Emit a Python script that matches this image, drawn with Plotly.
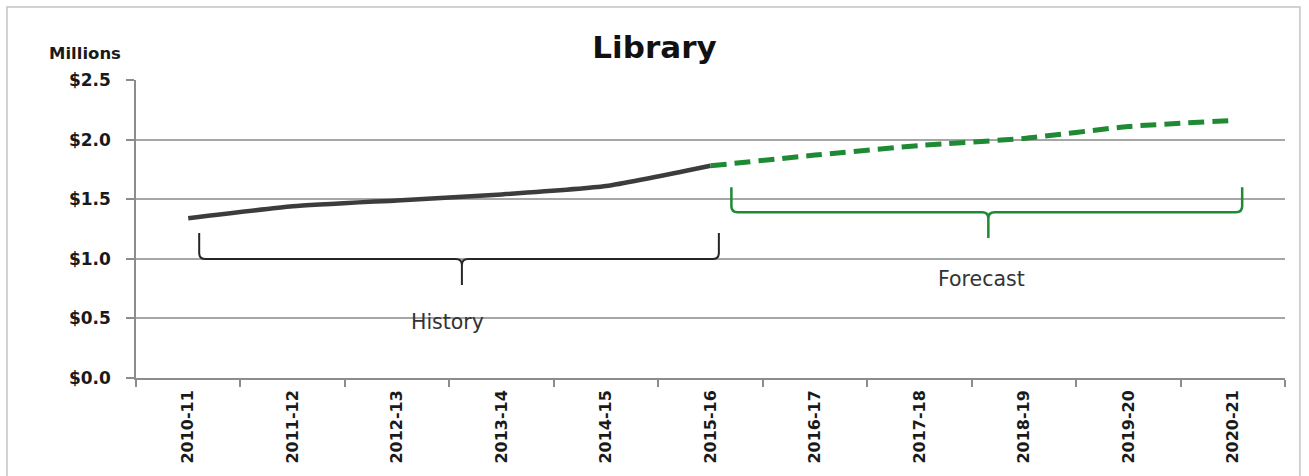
import plotly.graph_objects as go

# Fiscal years on the category axis
categories = ["2010-11", "2011-12", "2012-13", "2013-14", "2014-15", "2015-16",
              "2016-17", "2017-18", "2018-19", "2019-20", "2020-21"]

# Library spending, $ millions
history_years = categories[:6]
history_values = [1.34, 1.44, 1.49, 1.54, 1.61, 1.78]
forecast_years = categories[5:]
forecast_values = [1.78, 1.87, 1.95, 2.01, 2.11, 2.16]

y_ticks = [0.0, 0.5, 1.0, 1.5, 2.0, 2.5]

FONT = "DejaVu Sans"
GREEN = "#1f8a34"
DARK = "#3c3c3c"

idx = {c: i for i, c in enumerate(categories)}

fig = go.Figure()

fig.add_trace(go.Scatter(
    x=[idx[c] for c in history_years], y=history_values,
    mode="lines", line=dict(color=DARK, width=4.5, shape="spline", smoothing=0.5),
    hoverinfo="skip", showlegend=False))

fig.add_trace(go.Scatter(
    x=[idx[c] for c in forecast_years], y=forecast_values,
    mode="lines", line=dict(color=GREEN, width=5, dash="16px,8px",
                            shape="spline", smoothing=0.5),
    hoverinfo="skip", showlegend=False))


def brace_path(xl, xr, xm, yb, yt, ytip, dx=0.06, dy=0.05):
    """Curly brace opening upward: ends rise to yt, stem drops to ytip."""
    return (f"M {xl},{yt} L {xl},{yb + dy} Q {xl},{yb} {xl + dx},{yb} "
            f"L {xm - dx},{yb} Q {xm},{yb} {xm},{yb - dy} L {xm},{ytip} "
            f"M {xm},{yb - dy} Q {xm},{yb} {xm + dx},{yb} "
            f"L {xr - dx},{yb} Q {xr},{yb} {xr},{yb + dy} L {xr},{yt}")


fig.add_shape(type="path", xref="x", yref="y",
              path=brace_path(0.105, 5.08, 2.62, 0.998, 1.216, 0.78),
              line=dict(color="#262626", width=2))
fig.add_shape(type="path", xref="x", yref="y",
              path=brace_path(5.2, 10.09, 7.66, 1.39, 1.60, 1.175),
              line=dict(color=GREEN, width=2.5))

# Outer chart frame
fig.add_shape(type="rect", xref="paper", yref="paper",
              x0=-0.1123, x1=1.013, y0=-0.40, y1=1.245,
              line=dict(color="#c4c4c4", width=1.5), fillcolor="rgba(0,0,0,0)",
              layer="below")

fig.add_annotation(x=2.48, y=0.47, xref="x", yref="y", text="History",
                   showarrow=False, font=dict(family=FONT, size=20.5, color="#333333"))
fig.add_annotation(x=7.59, y=0.83, xref="x", yref="y", text="Forecast",
                   showarrow=False, font=dict(family=FONT, size=20.5, color="#333333"))
fig.add_annotation(x=-0.0444, y=1.0906, xref="paper", yref="paper", text="<b>Millions</b>",
                   showarrow=False, xanchor="center", yanchor="middle",
                   font=dict(family=FONT, size=16.5, color="#1a1a1a"))

fig.update_layout(
    width=1309, height=476,
    margin=dict(l=136, r=24, t=80, b=98),
    paper_bgcolor="white", plot_bgcolor="white",
    title=dict(text="<b>Library</b>", x=0.5, xref="container", xanchor="center",
               y=1 - 47 / 476, yanchor="middle",
               font=dict(family=FONT, size=31, color="#111111")),
    xaxis=dict(
        range=[-0.5, 10.5], tickmode="array",
        tickvals=list(range(len(categories))),
        ticktext=[f"<b>{c}</b>" for c in categories],
        tickangle=-90, ticks="", showgrid=False, zeroline=False,
        showline=True, linecolor="#8c8c8c", linewidth=1.5,
        ticklabelstandoff=4,
        tickfont=dict(family=FONT, size=16, color="#1a1a1a"),
        minor=dict(tickmode="array",
                   tickvals=[i - 0.5 for i in range(len(categories) + 1)],
                   ticks="outside", ticklen=7, tickcolor="#8c8c8c", tickwidth=1.5,
                   showgrid=False),
        fixedrange=True),
    yaxis=dict(
        range=[0, 2.5], tickmode="array", tickvals=y_ticks,
        ticktext=[f"<b>${v:.1f}</b>" for v in y_ticks],
        ticks="outside", ticklen=8, tickcolor="#8c8c8c", tickwidth=1.5,
        showgrid=True, gridcolor="#a6a6a6", gridwidth=1.5, zeroline=False,
        showline=True, linecolor="#8c8c8c", linewidth=1.5,
        ticklabelstandoff=12,
        tickfont=dict(family=FONT, size=17, color="#1a1a1a"),
        fixedrange=True),
)

fig.write_html("out.html")
